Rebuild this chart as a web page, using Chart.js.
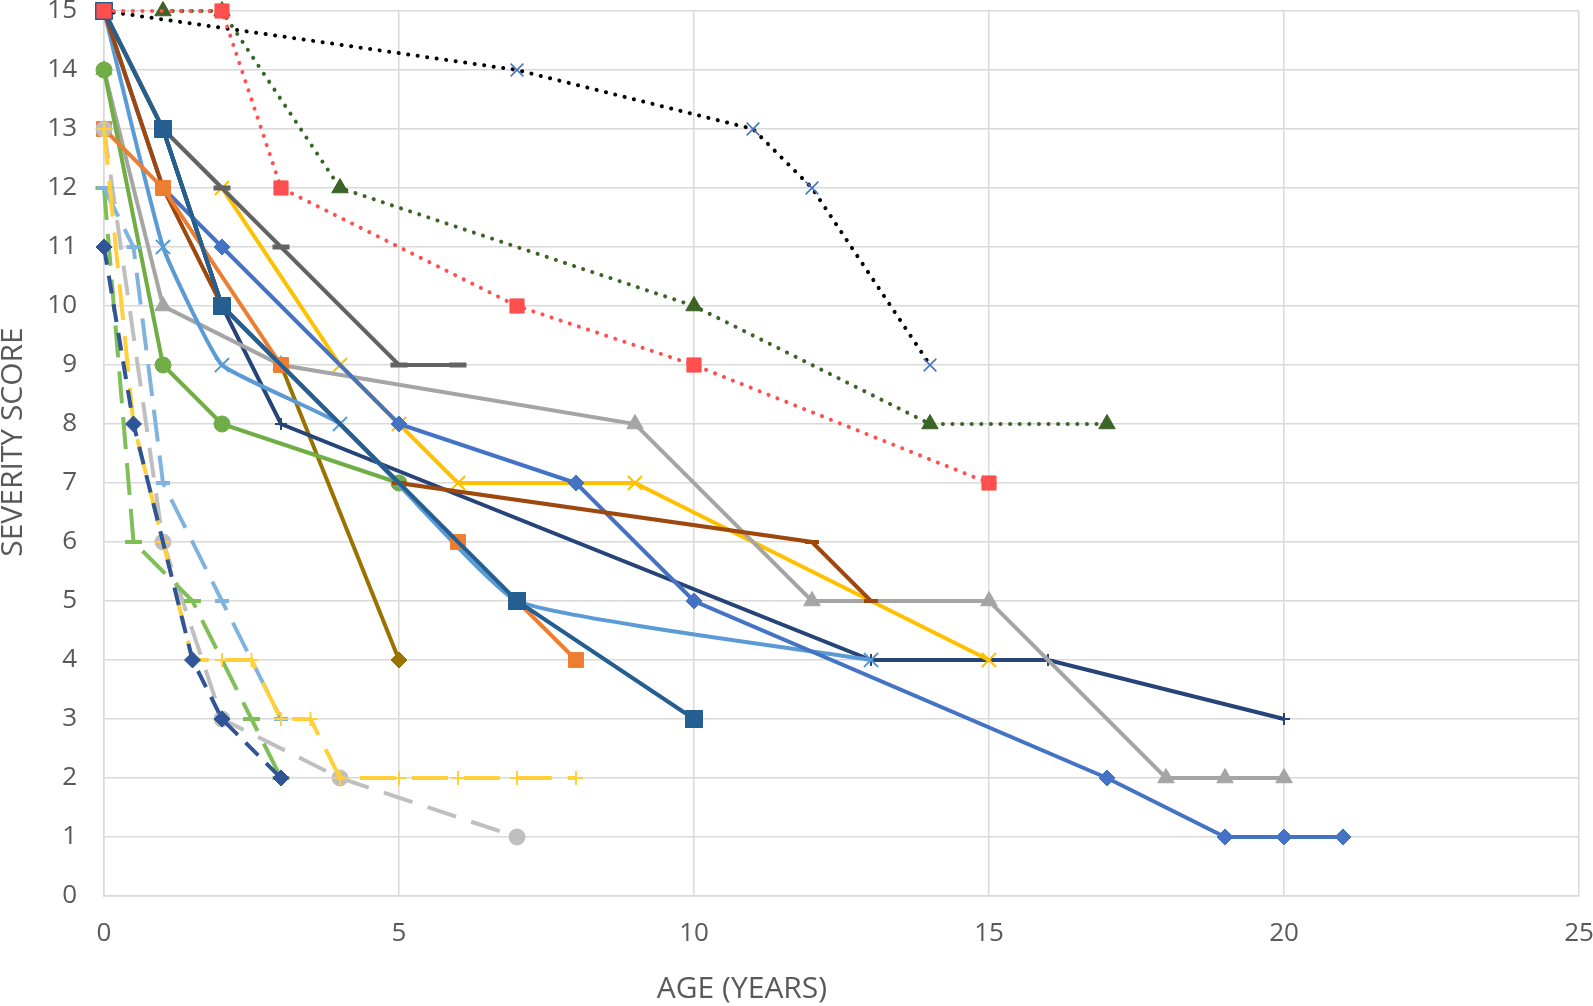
<!DOCTYPE html>
<html>
<head>
<meta charset="utf-8">
<script src="https://cdn.jsdelivr.net/npm/chart.js@4.4.0/dist/chart.umd.min.js"></script>
<style>
  body { margin: 0; background: #fff; }
  canvas { display: block; }
</style>
</head>
<body>
<canvas id="myChart" width="1593" height="1006"></canvas>
<script>
// ages (years) and severity scores, one pair of arrays per patient
const ageOrange = [0, 1, 3, 6, 7, 8];
const scoreOrange = [13, 12, 9, 6, 5, 4];
const ageTeal = [0, 1, 2, 7, 10];
const scoreTeal = [15, 13, 10, 5, 3];
const ageBrown = [0, 1, 2, 5, 12, 13];
const scoreBrown = [15, 12, 10, 7, 6, 5];
const ageBlue = [0, 1, 2, 5, 8, 10, 17, 19, 20, 21];
const scoreBlue = [15, 12, 11, 8, 7, 5, 2, 1, 1, 1];
const ageLightBlue = [0, 1, 2, 4, 7, 13];
const scoreLightBlue = [15, 11, 9, 8, 5, 4];
const ageGreen = [0, 1, 2, 5];
const scoreGreen = [14, 9, 8, 7];
const ageGrey = [0, 1, 3, 9, 12, 15, 18, 19, 20];
const scoreGrey = [14, 10, 9, 8, 5, 5, 2, 2, 2];
const ageDarkGrey = [0, 1, 2, 3, 5, 6];
const scoreDarkGrey = [15, 13, 12, 11, 9, 9];
const ageGold = [0, 1, 2, 4, 5, 6, 9, 15];
const scoreGold = [15, 13, 12, 9, 8, 7, 7, 4];
const ageNavy = [0, 1, 2, 3, 13, 16, 20];
const scoreNavy = [15, 13, 10, 8, 4, 4, 3];
const ageOlive = [0, 1, 2, 3, 5];
const scoreOlive = [15, 13, 10, 9, 4];

// dotted
const ageBlackDot = [0, 7, 11, 12, 14];
const scoreBlackDot = [15, 14, 13, 12, 9];
const ageRedDot = [0, 2, 3, 7, 10, 15];
const scoreRedDot = [15, 15, 12, 10, 9, 7];
const ageGreenDot = [1, 2, 4, 10, 14, 17];
const scoreGreenDot = [15, 15, 12, 10, 8, 8];

// dashed
const ageYellowDash = [0, 0.5, 1, 1.5, 2, 2.5, 3, 3.5, 4, 5, 6, 7, 8];
const scoreYellowDash = [13, 8, 6, 4, 4, 4, 3, 3, 2, 2, 2, 2, 2];
const ageSkyDash = [0, 0.5, 1, 2, 3];
const scoreSkyDash = [12, 11, 7, 5, 3];
const ageGreyDash = [0, 1, 2, 4, 7];
const scoreGreyDash = [13, 6, 3, 2, 1];
const ageGreenDash = [0, 0.5, 1.5, 2.5, 3];
const scoreGreenDash = [12, 6, 5, 3, 2];
const ageNavyDash = [0, 0.5, 1.5, 2, 3];
const scoreNavyDash = [11, 8, 4, 3, 2];

const xTicks = [0, 5, 10, 15, 20, 25];
const xTitle = 'AGE (YEARS)';
const yTitle = 'SEVERITY SCORE';

function pts(ages, scores) {
  return ages.map((a, i) => ({ x: a, y: scores[i] }));
}

function series(ages, scores, color, opts) {
  return Object.assign({
    data: pts(ages, scores),
    borderColor: color,
    backgroundColor: color,
    pointBorderColor: color,
    pointBackgroundColor: color,
    borderWidth: 4,
    pointRadius: 8,
    pointBorderWidth: 1,
    pointStyle: 'circle',
    tension: 0,
    clip: false
  }, opts);
}

const dotted = { borderDash: [0.1, 9.5], borderCapStyle: 'round', borderWidth: 4 };

// listed bottom to top; Chart.js paints index 0 last, so reversed below
const layers = [
  series(ageOlive, scoreOlive, '#997300', { pointStyle: 'rectRot', pointRadius: 8 }),
  series(ageNavy, scoreNavy, '#264478', { pointStyle: 'cross', pointRadius: 6, pointBorderWidth: 2 }),
  series(ageGold, scoreGold, '#FFC000', { pointStyle: 'crossRot', pointRadius: 10, pointBorderWidth: 2 }),
  series(ageDarkGrey, scoreDarkGrey, '#636363', { pointStyle: 'line', pointRadius: 8.5, pointBorderWidth: 5 }),
  series(ageGrey, scoreGrey, '#A5A5A5', { pointStyle: 'triangle', pointRadius: 9.5 }),
  series(ageGreen, scoreGreen, '#70AD47', { pointStyle: 'circle', pointRadius: 8 }),
  series(ageLightBlue, scoreLightBlue, '#5B9BD5', { pointStyle: 'crossRot', pointRadius: 10, pointBorderWidth: 2, tension: 0.12 }),
  series(ageBlue, scoreBlue, '#4472C4', { pointStyle: 'rectRot', pointRadius: 8 }),
  series(ageBrown, scoreBrown, '#9E480E', { pointStyle: 'line', pointRadius: 7, pointBorderWidth: 4 }),
  series(ageOrange, scoreOrange, '#ED7D31', { pointStyle: 'rect', pointRadius: 10.5 }),
  series(ageTeal, scoreTeal, '#255E91', { pointStyle: 'rect', pointRadius: 12 }),

  series(ageGreyDash, scoreGreyDash, '#BFBFBF', { borderDash: [30, 16], pointStyle: 'circle', pointRadius: 8 }),
  series(ageGreenDash, scoreGreenDash, '#80BE58', { borderDash: [32, 14], pointStyle: 'line', pointRadius: 8.5, pointBorderWidth: 4 }),
  series(ageSkyDash, scoreSkyDash, '#80B4E0', { borderDash: [32, 14], pointStyle: 'line', pointRadius: 7, pointBorderWidth: 4 }),
  series(ageYellowDash, scoreYellowDash, '#FFD03A', { borderDash: [36, 16], pointStyle: 'cross', pointRadius: 7, pointBorderWidth: 2 }),
  series(ageNavyDash, scoreNavyDash, '#2F5597', { borderDash: [18, 11], pointStyle: 'rectRot', pointRadius: 8 }),

  series(ageGreenDot, scoreGreenDot, '#3B6426', Object.assign({ pointStyle: 'triangle', pointRadius: 9.5 }, dotted)),
  series(ageBlackDot, scoreBlackDot, '#000000', Object.assign({
    pointStyle: 'crossRot', pointRadius: 9, pointBorderWidth: 1.5,
    pointBorderColor: '#4472C4', pointBackgroundColor: '#4472C4'
  }, dotted)),
  series(ageRedDot, scoreRedDot, '#FF4F4F', Object.assign({ pointStyle: 'rect', pointRadius: 10 }, dotted))
];
const datasets = layers.slice().reverse();

const fontFamily = "'Open Sans', sans-serif";
const tickFont = { family: fontFamily, size: 26 };
const gridColor = '#D9D9D9';
const textColor = '#595959';

// axis titles sit a little off-centre in the original, so draw them by hand
const axisTitles = {
  id: 'axisTitles',
  afterDraw(chart) {
    const ctx = chart.ctx;
    ctx.save();
    ctx.fillStyle = textColor;
    ctx.font = '30px ' + fontFamily;
    ctx.textAlign = 'center';
    ctx.textBaseline = 'middle';
    ctx.fillText(xTitle, 742, 989);
    ctx.translate(13, 442);
    ctx.rotate(-Math.PI / 2);
    ctx.fillText(yTitle, 0, 0);
    ctx.restore();
  }
};

const chartContext = document.getElementById('myChart').getContext('2d');
const myChart = new Chart(chartContext, {
  type: 'line',
  data: { datasets: datasets },
  plugins: [axisTitles],
  options: {
    responsive: false,
    animation: false,
    layout: { autoPadding: false, padding: { top: 11, right: 14, left: 0, bottom: 0 } },
    plugins: {
      legend: { display: false },
      tooltip: { enabled: false }
    },
    scales: {
      x: {
        type: 'linear',
        min: 0,
        max: 25,
        afterBuildTicks: (scale) => { scale.ticks = xTicks.map(v => ({ value: v })); },
        afterFit: (scale) => {
          scale.height = 110;
          scale.paddingLeft = 0;
          scale.paddingRight = 0;
        },
        ticks: { color: textColor, font: tickFont, padding: 22, maxRotation: 0 },
        grid: { color: gridColor, lineWidth: 1.5, drawTicks: false },
        border: { color: gridColor, width: 1.5 }
      },
      y: {
        min: 0,
        max: 15,
        afterFit: (scale) => {
          scale.width = 104;
          scale.paddingTop = 0;
          scale.paddingBottom = 0;
        },
        ticks: { stepSize: 1, color: textColor, font: tickFont, padding: 27 },
        grid: { color: gridColor, lineWidth: 1.5, drawTicks: false },
        border: { color: gridColor, width: 1.5 }
      }
    }
  }
});
</script>
</body>
</html>
